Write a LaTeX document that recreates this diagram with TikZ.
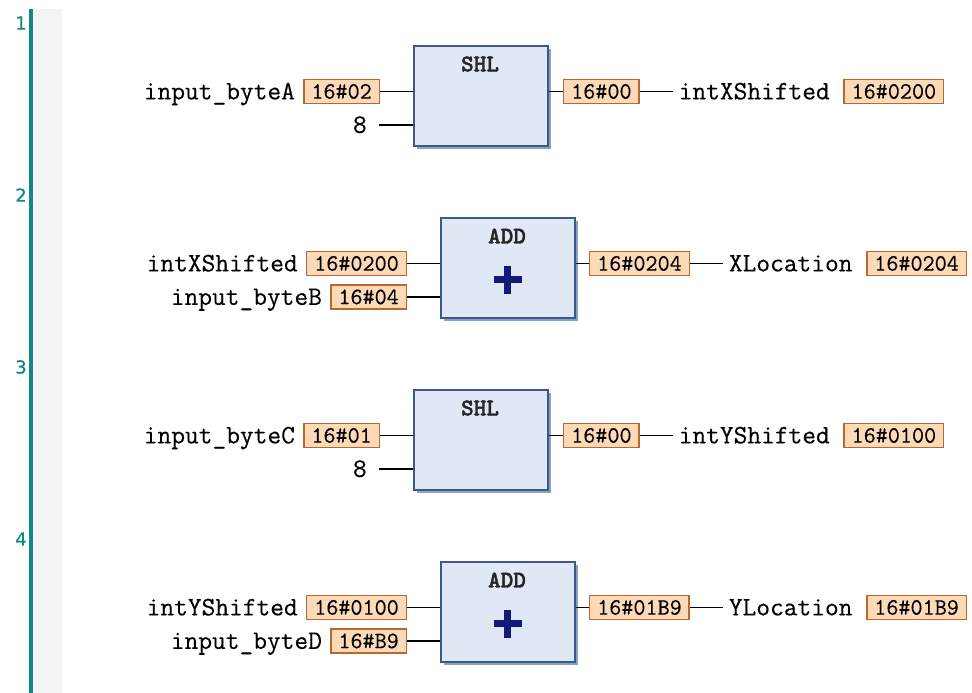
\documentclass[tikz,border=0pt]{standalone}
\usepackage{fontspec}
\setmonofont{Latin Modern Mono}[FakeBold=0.3]
\newfontfamily\rungfont{DejaVu Sans}[FakeBold=0.6]
\newfontfamily\fbfont{lmmonolt10-bold.otf}[FakeBold=1.6]
\usepackage{tikz}
\usetikzlibrary{positioning,shadows}

\definecolor{valfill}{RGB}{252,217,183}
\definecolor{valline}{RGB}{184,104,44}
\definecolor{fbfill}{RGB}{224,232,245}
\definecolor{fbline}{RGB}{58,88,138}
\definecolor{fbshadow}{RGB}{140,160,195}
\definecolor{rungline}{RGB}{16,136,132}
\definecolor{rungfill}{RGB}{243,243,243}
\definecolor{plusblue}{RGB}{20,24,120}

\tikzset{
  fb/.style={draw=fbline, line width=1.2pt, fill=fbfill, minimum width=100.5pt,
    minimum height=75pt, anchor=north west,
    drop shadow={shadow xshift=2.2pt, shadow yshift=-2.2pt, fill=fbshadow, opacity=1}},
  fbname/.style={font=\fbfont\fontsize{18}{18}\selectfont, text=black!85},
  val/.style={draw=valline, line width=1.1pt, fill=valfill,
    font=\ttfamily\fontsize{17.6}{18}\selectfont, text height=10.7pt, text depth=0pt,
    inner ysep=3.6pt, inner xsep=5.6pt},
  var/.style={font=\ttfamily\fontsize{20}{20}\selectfont, text height=11.8pt,
    text depth=0pt, inner xsep=0pt},
  outvar/.style={var, inner xsep=4pt},
  wire/.style={line width=1pt},
  rungno/.style={text=rungline, font=\rungfont\fontsize{13.5}{14}\selectfont},
  plus/.style={draw=plusblue, line width=5.2pt}
}

\begin{document}
\begin{tikzpicture}[x=0.75pt,y=-0.75pt]
  \useasboundingbox (0,0) rectangle (972,693);
  \fill[rungfill] (33,9) rectangle (62,693);
  \fill[rungline] (29,9) rectangle (33,693);

  % rung 1
  \draw (21,23) node[rungno] (rung1) {1};
  \node[fb] (shl1) at (413,45) {};
  \node[fbname] (shl1 name) at (480,64) {SHL};
  \node[val, anchor=east] (byteA val) at (380,91.5) {16\#02};
  \node[var, left=6pt of byteA val] (byteA) {input\_byteA};
  \coordinate (shl1 in2) at (379,125);
  \node[var, left=9pt of shl1 in2] (shl1 n) {8};
  \node[val, anchor=west] (shl1 out) at (563,91.5) {16\#00};
  \node[outvar, right=25pt of shl1 out] (intX) {intXShifted};
  \node[val, right=6pt of intX] (intX val) {16\#0200};

  \draw[wire] (byteA val.east) -- (byteA val.east -| shl1.west);
  \draw[wire] (shl1 in2) -- (shl1 in2 -| shl1.west);
  \draw[wire] (shl1 out.west -| shl1.east) -- (shl1 out.west);
  \draw[wire] (shl1 out.east) -- (intX.west);

  % rung 2
  \draw (21,195) node[rungno] (rung2) {2};
  \node[fb] (add1) at (440,217) {};
  \node[fbname] (add1 name) at (507,236) {ADD};
  \draw[plus] ([xshift=-10.5pt,yshift=-9pt]add1.center) -- ([xshift=10.5pt,yshift=-9pt]add1.center);
  \draw[plus] ([yshift=1.5pt]add1.center) -- ([yshift=-19.5pt]add1.center);
  \node[val, anchor=east] (intXin val) at (407,263.5) {16\#0200};
  \node[var, left=6pt of intXin val] (intXin) {intXShifted};
  \node[val, anchor=east] (byteB val) at (407,297) {16\#04};
  \node[var, left=6pt of byteB val] (byteB) {input\_byteB};
  \node[val, anchor=west] (add1 out) at (589,263.5) {16\#0204};
  \node[outvar, right=25pt of add1 out] (xloc) {XLocation};
  \node[val, right=6pt of xloc] (xloc val) {16\#0204};

  \draw[wire] (intXin val.east) -- (intXin val.east -| add1.west);
  \draw[wire] (byteB val.east) -- (byteB val.east -| add1.west);
  \draw[wire] (add1 out.west -| add1.east) -- (add1 out.west);
  \draw[wire] (add1 out.east) -- (xloc.west);

  % rung 3
  \draw (21,367) node[rungno] (rung3) {3};
  \node[fb] (shl2) at (413,389) {};
  \node[fbname] (shl2 name) at (480,408) {SHL};
  \node[val, anchor=east] (byteC val) at (380,435.5) {16\#01};
  \node[var, left=6pt of byteC val] (byteC) {input\_byteC};
  \coordinate (shl2 in2) at (379,469);
  \node[var, left=9pt of shl2 in2] (shl2 n) {8};
  \node[val, anchor=west] (shl2 out) at (563,435.5) {16\#00};
  \node[outvar, right=25pt of shl2 out] (intY) {intYShifted};
  \node[val, right=6pt of intY] (intY val) {16\#0100};

  \draw[wire] (byteC val.east) -- (byteC val.east -| shl2.west);
  \draw[wire] (shl2 in2) -- (shl2 in2 -| shl2.west);
  \draw[wire] (shl2 out.west -| shl2.east) -- (shl2 out.west);
  \draw[wire] (shl2 out.east) -- (intY.west);

  % rung 4
  \draw (21,539) node[rungno] (rung4) {4};
  \node[fb] (add2) at (440,561) {};
  \node[fbname] (add2 name) at (507,580) {ADD};
  \draw[plus] ([xshift=-10.5pt,yshift=-9pt]add2.center) -- ([xshift=10.5pt,yshift=-9pt]add2.center);
  \draw[plus] ([yshift=1.5pt]add2.center) -- ([yshift=-19.5pt]add2.center);
  \node[val, anchor=east] (intYin val) at (407,607.5) {16\#0100};
  \node[var, left=6pt of intYin val] (intYin) {intYShifted};
  \node[val, anchor=east] (byteD val) at (407,641) {16\#B9};
  \node[var, left=6pt of byteD val] (byteD) {input\_byteD};
  \node[val, anchor=west] (add2 out) at (589,607.5) {16\#01B9};
  \node[outvar, right=25pt of add2 out] (yloc) {YLocation};
  \node[val, right=6pt of yloc] (yloc val) {16\#01B9};

  \draw[wire] (intYin val.east) -- (intYin val.east -| add2.west);
  \draw[wire] (byteD val.east) -- (byteD val.east -| add2.west);
  \draw[wire] (add2 out.west -| add2.east) -- (add2 out.west);
  \draw[wire] (add2 out.east) -- (yloc.west);
\end{tikzpicture}
\end{document}
